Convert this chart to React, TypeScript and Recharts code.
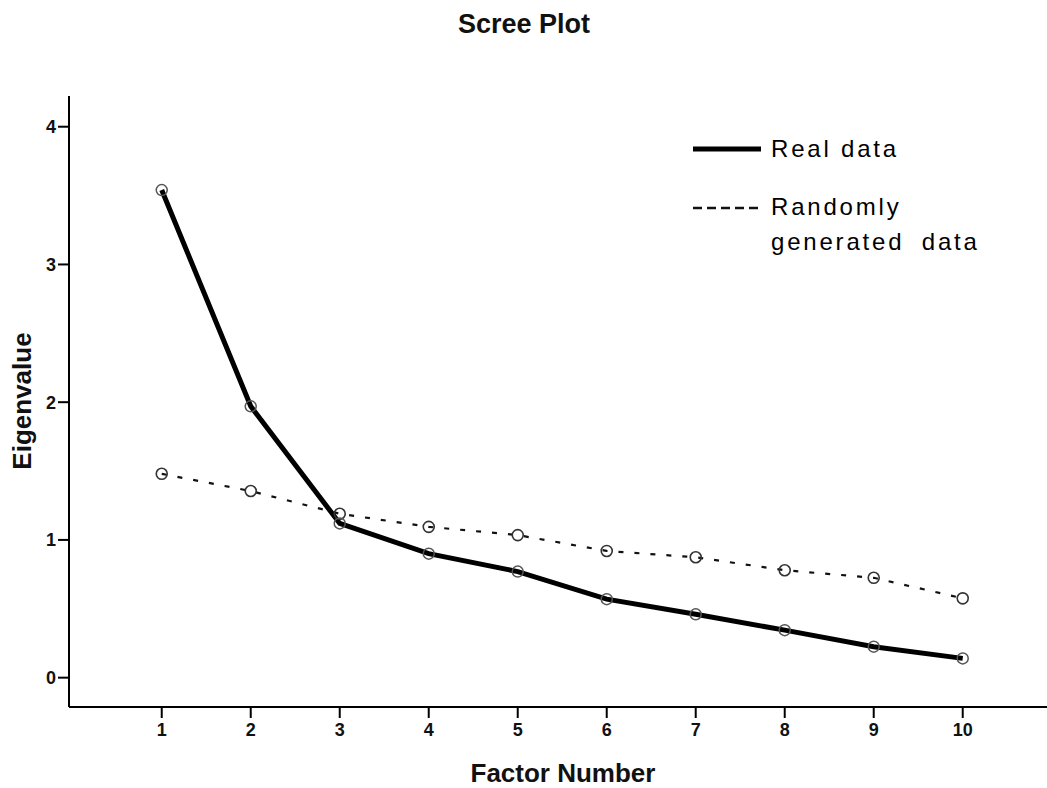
import React from 'react';
import { LineChart, Line, XAxis, YAxis } from 'recharts';

const factors = [1, 2, 3, 4, 5, 6, 7, 8, 9, 10];
const realData = [3.54, 1.97, 1.12, 0.9, 0.77, 0.57, 0.46, 0.345, 0.225, 0.14];
const randomData = [1.48, 1.355, 1.19, 1.095, 1.035, 0.92, 0.874, 0.78, 0.725, 0.576];
const yTicks = [0, 1, 2, 3, 4];
const xTicks = [1, 2, 3, 4, 5, 6, 7, 8, 9, 10];
const titleText = 'Scree Plot';
const xTitle = 'Factor Number';
const yTitle = 'Eigenvalue';
const legendReal = 'Real data';
const legendRandom1 = 'Randomly';
const legendRandom2 = 'generated data';

const data = factors.map((f, i) => ({ factor: f, real: realData[i], random: randomData[i] }));

const FONT = '"Liberation Sans", Arial, Helvetica, sans-serif';
const W = 1047;
const H = 788;

export default function App() {
  const tickStyle = { fontSize: 18, fontWeight: 700, fill: '#111', fontFamily: FONT };
  return (
    <div style={{ position: 'absolute', left: 0, top: 0, width: W, height: H, background: '#fff' }}>
      <LineChart width={W} height={H} data={data} margin={{ top: 96, right: 0, bottom: 0, left: 0 }}>
        <XAxis
          dataKey="factor"
          type="number"
          domain={[-0.042, 10.947]}
          ticks={xTicks}
          allowDataOverflow
          height={81}
          tickSize={11}
          tickMargin={5}
          tick={tickStyle}
          axisLine={{ stroke: '#000', strokeWidth: 2 }}
          tickLine={{ stroke: '#000', strokeWidth: 2 }}
        />
        <XAxis
          xAxisId="top"
          orientation="top"
          dataKey="factor"
          type="number"
          domain={[-0.042, 10.947]}
          height={0}
          tick={false}
          tickLine={false}
          axisLine={{ stroke: '#222', strokeWidth: 2.5 }}
        />
        <YAxis
          type="number"
          domain={[-0.213, 4.223]}
          ticks={yTicks}
          allowDataOverflow
          width={69}
          tickSize={11}
          tickMargin={2}
          tick={tickStyle}
          axisLine={{ stroke: '#000', strokeWidth: 2 }}
          tickLine={{ stroke: '#000', strokeWidth: 2 }}
        />
        <Line
          type="linear"
          dataKey="random"
          stroke="#111"
          strokeWidth={2.2}
          strokeDasharray="5 11"
          dot={{ r: 5.5, fill: 'none', stroke: '#333', strokeWidth: 1.6, strokeDasharray: 'none' }}
          activeDot={false}
          isAnimationActive={false}
        />
        <Line
          type="linear"
          dataKey="real"
          stroke="#000"
          strokeWidth={5}
          dot={{ r: 5.5, fill: 'none', stroke: '#555', strokeWidth: 1.5 }}
          activeDot={false}
          isAnimationActive={false}
        />
      </LineChart>
      <svg width={W} height={H} style={{ position: 'absolute', left: 0, top: 0, pointerEvents: 'none' }}>
        <text x={524} y={33} textAnchor="middle" fontFamily={FONT} fontSize={27} fontWeight={700} fill="#111">
          {titleText}
        </text>
        <text x={563} y={782} textAnchor="middle" fontFamily={FONT} fontSize={26} fontWeight={700} fill="#111">
          {xTitle}
        </text>
        <text
          x={31}
          y={401}
          textAnchor="middle"
          transform="rotate(-90 31 401)"
          fontFamily={FONT}
          fontSize={26}
          fontWeight={700}
          fill="#111"
        >
          {yTitle}
        </text>
        <line x1={693} y1={149} x2={761} y2={149} stroke="#000" strokeWidth={5} />
        <line x1={693} y1={208} x2={761} y2={208} stroke="#111" strokeWidth={2.5} strokeDasharray="9 5" />
        <text x={771} y={157} fontFamily={FONT} fontSize={24} letterSpacing={2.8} fill="#000">
          {legendReal}
        </text>
        <text x={771} y={215} fontFamily={FONT} fontSize={24} letterSpacing={2.8} fill="#000">
          {legendRandom1}
        </text>
        <text x={771} y={250} fontFamily={FONT} fontSize={24} letterSpacing={2.8} wordSpacing={8} fill="#000">
          {legendRandom2}
        </text>
      </svg>
    </div>
  );
}
